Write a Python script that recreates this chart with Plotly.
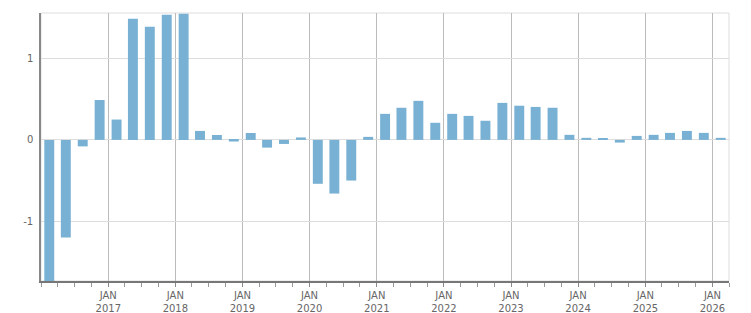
import plotly.graph_objects as go

quarters = [f"{y}-{m:02d}-15" for y in range(2016, 2027) for m in (2, 5, 8, 11)][:41]
values = [-1.85, -1.20, -0.08, 0.49, 0.25, 1.49, 1.39, 1.54, 1.55, 0.11, 0.06, -0.02,
          0.085, -0.095, -0.05, 0.03, -0.54, -0.66, -0.50, 0.037, 0.32, 0.395, 0.48, 0.21,
          0.32, 0.295, 0.235, 0.455, 0.42, 0.405, 0.395, 0.062, 0.025, 0.012, -0.033, 0.049,
          0.062, 0.086, 0.11, 0.086, 0.025]
tick_dates = [f"{y}-01-01" for y in range(2017, 2027)]
tick_labels = [f"JAN<br>{y}" for y in range(2017, 2027)]
y_ticks = [-1, 0, 1]
y_labels = ["-1", "0", "1"]

DAY = 86400000
fig = go.Figure(go.Bar(x=quarters, y=values, marker_color="#78b1d3",
                       marker_line_width=0, width=[54 * DAY] * len(values)))

font = dict(family="DejaVu Sans", size=10, color="#666")
fig.update_layout(
    width=751, height=313, margin=dict(l=41, r=22, t=13, b=32),
    paper_bgcolor="white", plot_bgcolor="white", showlegend=False,
    font=font,
    xaxis=dict(type="date", range=["2016-01-01", "2026-04-01"], automargin=False,
               tickvals=tick_dates, ticktext=tick_labels,
               showgrid=True, gridcolor="#bbbbbb", gridwidth=1,
               ticks="outside", ticklen=4, tickcolor="#888",
               showline=True, linecolor="#777", linewidth=2,
               minor=dict(dtick="M3", tick0="2016-01-01", ticks="outside", ticklen=4,
                          tickcolor="#999", showgrid=False),
               tickfont=font, zeroline=False),
    yaxis=dict(range=[-1.735, 1.56], tickvals=y_ticks, ticktext=y_labels, automargin=False,
               showgrid=True, gridcolor="#dddddd", gridwidth=1,
               zeroline=True, zerolinecolor="#dddddd", zerolinewidth=1,
               showline=True, linecolor="#888", linewidth=1.5,
               ticks="", ticklabelstandoff=4, tickfont=font),
    shapes=[dict(type="rect", xref="paper", yref="paper", x0=0, x1=1, y0=0, y1=1,
                 line=dict(color="#dddddd", width=1), layer="below")],
)
fig.write_html("out.html")
